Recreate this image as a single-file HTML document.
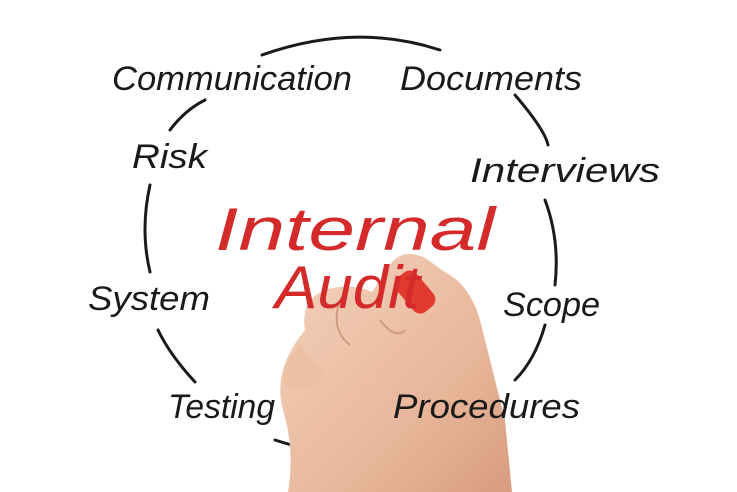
<!DOCTYPE html>
<html><head><meta charset="utf-8"><style>
html,body{margin:0;padding:0;background:#fff;width:737px;height:492px;overflow:hidden}
svg{display:block}
.l{font-family:"Liberation Sans",sans-serif;font-style:italic;fill:#1a1a1a;font-size:34px}
.r{font-family:"Liberation Sans",sans-serif;font-style:italic;fill:#d42a2a;font-size:60px}
</style></head><body>
<svg width="737" height="492" viewBox="0 0 737 492">
<defs>
<linearGradient id="skin" x1="0" y1="0" x2="1" y2="1">
<stop offset="0" stop-color="#f3d2bd"/><stop offset="0.6" stop-color="#e9b89c"/><stop offset="1" stop-color="#d89c7f"/>
</linearGradient>
</defs>
<rect width="737" height="492" fill="#fff"/>
<g fill="none" stroke="#1a1a1a" stroke-width="3" stroke-linecap="round">
<path d="M262,55 Q355,22 440,50"/>
<path d="M515,95 Q545,130 548,145"/>
<path d="M545,200 Q560,240 555,285"/>
<path d="M545,325 Q535,360 515,380"/>
<path d="M410,440 Q350,465 275,440"/>
<path d="M195,382 Q170,355 158,330"/>
<path d="M150,272 Q140,230 150,185"/>
<path d="M170,130 Q185,110 205,100"/>
</g>
<g>
<path d="M305,330 Q300,300 325,290 Q350,282 372,292 L392,262 Q405,248 425,258 L445,272 Q470,285 480,320 Q495,380 505,420 L512,492 L288,492 Q295,450 283,410 Q272,370 305,330 Z" fill="url(#skin)"/>
<path d="M300,345 Q280,365 285,385 Q300,395 330,378" fill="#ecc0a5"/>
<path d="M340,300 Q330,330 350,345" fill="none" stroke="#cf9a80" stroke-width="2"/>
<path d="M380,320 Q395,340 405,330" fill="none" stroke="#cf9a80" stroke-width="2"/>
<rect x="402" y="270" width="26" height="44" rx="9" fill="#e23a2e" transform="rotate(-40 415 292)"/>
</g>
<text class="l" x="112" y="90" textLength="240" lengthAdjust="spacingAndGlyphs">Communication</text>
<text class="l" x="400" y="90" textLength="182" lengthAdjust="spacingAndGlyphs">Documents</text>
<text class="l" x="132" y="168" textLength="75" lengthAdjust="spacingAndGlyphs">Risk</text>
<text class="l" x="470" y="182" textLength="190" lengthAdjust="spacingAndGlyphs">Interviews</text>
<text class="l" x="88" y="310" textLength="122" lengthAdjust="spacingAndGlyphs">System</text>
<text class="l" x="503" y="316" textLength="97" lengthAdjust="spacingAndGlyphs">Scope</text>
<text class="l" x="168" y="418" textLength="107" lengthAdjust="spacingAndGlyphs">Testing</text>
<text class="l" x="393" y="418" textLength="187" lengthAdjust="spacingAndGlyphs">Procedures</text>
<text class="r" x="215" y="250" textLength="280" lengthAdjust="spacingAndGlyphs">Internal</text>
<text class="r" x="275" y="308" textLength="145" lengthAdjust="spacingAndGlyphs">Audit</text>
</svg>
</body></html>
